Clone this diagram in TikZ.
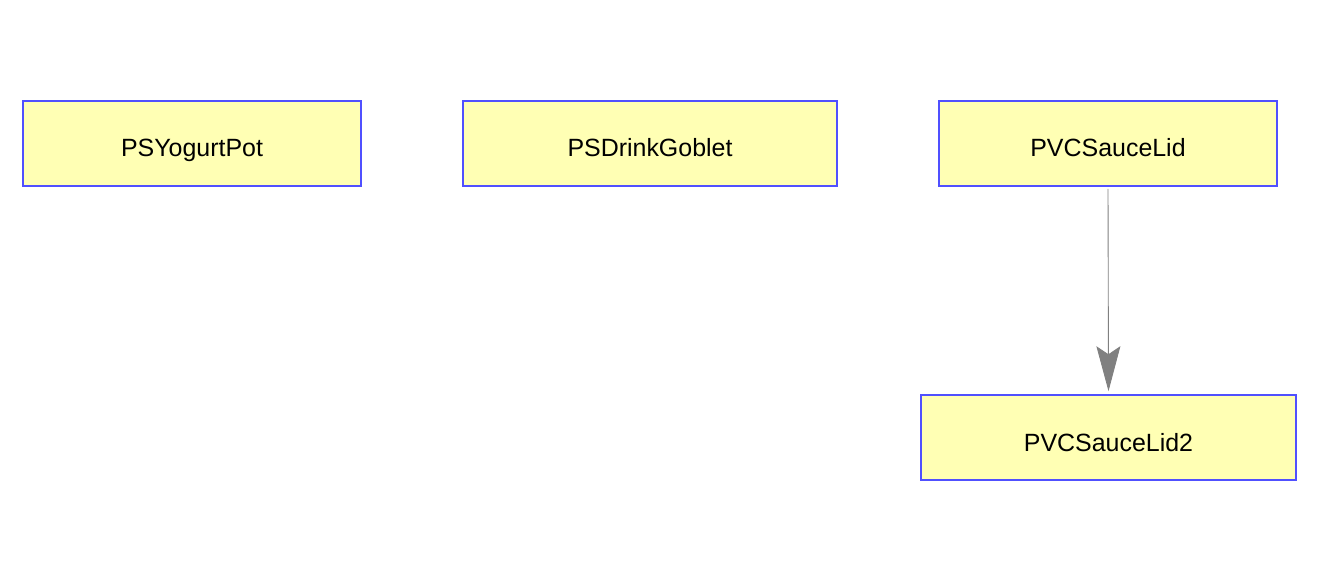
\documentclass[tikz,border=0pt]{standalone}
\usepackage{fontspec}
\setmainfont{Liberation Sans}
\usetikzlibrary{arrows.meta,positioning}
\definecolor{boxfill}{RGB}{255,255,180}
\definecolor{boxline}{RGB}{80,80,255}
\definecolor{arrowgray}{RGB}{128,128,128}

\begin{document}
\begin{tikzpicture}[x=0.02cm, y=-0.02cm,
    main/.style = {draw=boxline, fill=boxfill, line width=0.9pt, minimum height=1.7cm, inner sep=0pt,
        text height=0.6cm, text depth=0.06cm, font=\fontsize{14.2}{16}\selectfont},
    link/.style = {draw=arrowgray, line width=0.5pt, -{Stealth[length=0.9cm, width=0.48cm, inset=0.16cm, fill=arrowgray]}}]
    \useasboundingbox (0,0) rectangle (1317,581);
    \node[main, minimum width=6.76cm] (yogurt) at (192,143.5) {PSYogurtPot};
    \node[main, minimum width=7.48cm] (goblet) at (650,143.5) {PSDrinkGoblet};
    \node[main, minimum width=6.76cm] (lid) at (1108,143.5) {PVCSauceLid};
    \node[main, minimum width=7.5cm] (lid2) at (1108.5,437.5) {PVCSauceLid2};

    \draw[link] ([yshift=-0.04cm]lid.south) -- ([yshift=0.06cm]lid2.north);
\end{tikzpicture}
\end{document}
